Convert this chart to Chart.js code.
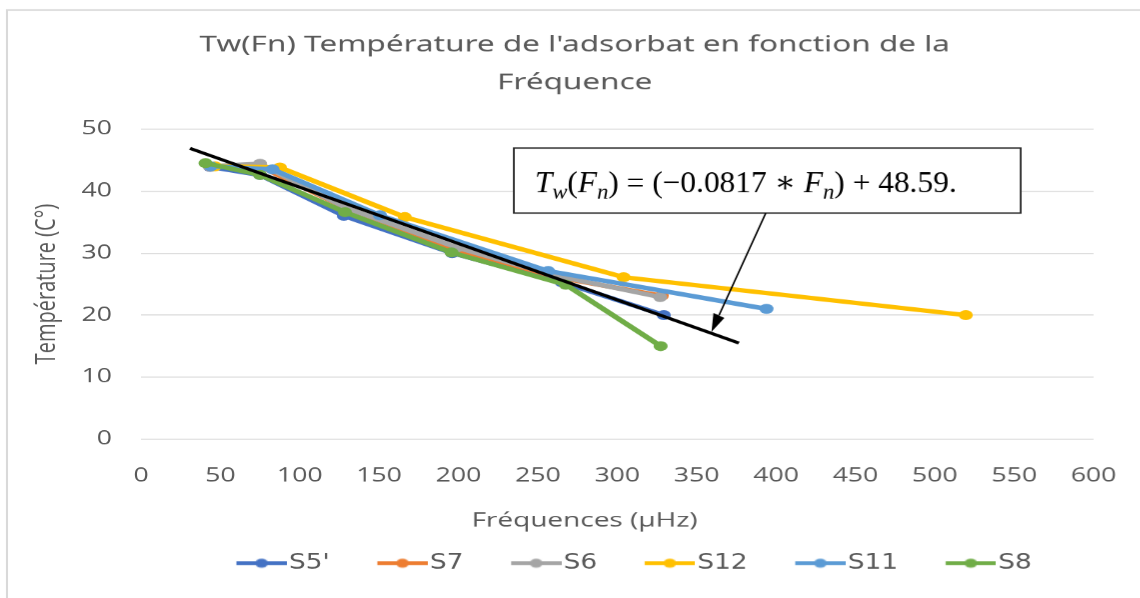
<!DOCTYPE html>
<html>
<head>
<meta charset="utf-8">
<script src="https://cdn.jsdelivr.net/npm/chart.js@4.4.0/dist/chart.umd.min.js"></script>
<style>
  html, body { margin: 0; padding: 0; background: #fff; overflow: hidden; }
  /* the reference picture is stretched sideways, so the chart is too */
  #wrap { position: absolute; left: 0; top: 0; width: 814.3px; height: 598px; transform: scaleX(1.4); transform-origin: 0 0; }
</style>
</head>
<body>
<div id="wrap"><canvas id="chart"></canvas></div>
<script>
const STRETCH = 1.4;

const seriesNames = ["S5'", "S7", "S6", "S12", "S11", "S8"];
const seriesColors = ["#4472C4", "#ED7D31", "#A5A5A5", "#FFC000", "#5B9BD5", "#70AD47"];

// frequencies (µHz) and temperatures (°C)
const s5Freq = [43.5, 75, 127.8, 196, 265, 329.3];
const s5Temp = [43.9, 42.6, 36.0, 30.0, 25.3, 20.0];
const s7Freq = [43.5, 75, 127, 197, 262, 328];
const s7Temp = [44.0, 44.0, 37.5, 30.7, 26.1, 23.1];
const s6Freq = [43.5, 75, 129, 199, 262, 327];
const s6Temp = [44.0, 44.4, 37.3, 30.9, 26.3, 22.9];
const s12Freq = [46.6, 87.5, 166.2, 304, 519.5];
const s12Temp = [44.0, 43.8, 35.8, 26.1, 20.0];
const s11Freq = [44, 82.9, 150.5, 256.5, 394];
const s11Temp = [44.0, 43.5, 36.1, 27.1, 21.0];
const s8Freq = [40.7, 75, 128.5, 195.6, 267.6, 327.3];
const s8Temp = [44.5, 42.6, 36.6, 30.1, 24.9, 15.0];

// hand drawn fit line
const trendFreq = [30.9, 376.6];
const trendTemp = [46.9, 15.5];

const xTicks = [0, 50, 100, 150, 200, 250, 300, 350, 400, 450, 500, 550, 600];
const yTicks = [0, 10, 20, 30, 40, 50];

const allFreq = [s5Freq, s7Freq, s6Freq, s12Freq, s11Freq, s8Freq];
const allTemp = [s5Temp, s7Temp, s6Temp, s12Temp, s11Temp, s8Temp];
// Excel draws the last series on top
const drawOrder = [6, 5, 4, 3, 2, 1];

const grey = "#595959";
const tickFont = { family: "'Open Sans', 'Noto Sans', sans-serif", size: 19 };
const axisTitleFont = { family: "'Open Sans', 'Noto Sans', sans-serif", size: 20 };

function toPoints(xs, ys) {
  return xs.map((x, i) => ({ x: x, y: ys[i] }));
}

function legendIcon(color) {
  let c = document.createElement("canvas");
  c.width = 69;
  c.height = 14;
  let g = c.getContext("2d");
  g.strokeStyle = color;
  g.lineWidth = 4;
  g.beginPath();
  g.moveTo(c.width - 36, 7);
  g.lineTo(c.width, 7);
  g.stroke();
  g.fillStyle = color;
  g.beginPath();
  g.arc(c.width - 18, 7, 4.5, 0, Math.PI * 2);
  g.fill();
  return c;
}
const icons = seriesColors.map(legendIcon);

let datasets = seriesNames.map((name, i) => ({
  label: name,
  data: toPoints(allFreq[i], allTemp[i]),
  showLine: true,
  borderColor: seriesColors[i],
  backgroundColor: seriesColors[i],
  borderWidth: 4.5,
  pointRadius: 5,
  pointBorderWidth: 0,
  pointBackgroundColor: seriesColors[i],
  tension: 0,
  order: drawOrder[i]
}));

datasets.push({
  label: "Tendance",
  data: toPoints(trendFreq, trendTemp),
  showLine: true,
  borderColor: "#000",
  borderWidth: 3,
  pointRadius: 0,
  order: 0
});

const overlay = {
  id: "overlay",
  beforeDraw(chart) {
    const { ctx, width, height } = chart;
    ctx.save();
    ctx.fillStyle = "#fff";
    ctx.fillRect(0, 0, width, height);
    ctx.strokeStyle = "#D9D9D9";
    ctx.lineWidth = 1.5;
    ctx.strokeRect(5, 10, width + 20, height + 20);
    ctx.restore();
  },
  afterDraw(chart) {
    const ctx = chart.ctx;
    ctx.save();

    // equation box
    const bx = 514 / STRETCH, by = 148, bw = (1021 - 514) / STRETCH, bh = 65;
    ctx.fillStyle = "#fff";
    ctx.fillRect(bx, by, bw, bh);
    ctx.strokeStyle = "#262626";
    ctx.lineWidth = 1.3;
    ctx.strokeRect(bx, by, bw, bh);

    const parts = [
      { t: "T", it: true }, { t: "w", it: true, sub: true },
      { t: "(" }, { t: "F", it: true }, { t: "n", it: true, sub: true },
      { t: ") = (\u22120.0817 \u2217 " }, { t: "F", it: true }, { t: "n", it: true, sub: true },
      { t: ") + 48.59." }
    ];
    const fam = "'Liberation Serif', 'DejaVu Serif', serif";
    const size = 30;
    const fontFor = p => (p.it ? "italic " : "") + (p.sub ? size * 0.72 : size) + "px " + fam;
    const total = parts.reduce((w, p) => { ctx.font = fontFor(p); return w + ctx.measureText(p.t).width; }, 0);
    const squeeze = ((957 - 535) / STRETCH) / total;
    const base = 192;
    ctx.translate(535 / STRETCH, 0);
    ctx.scale(squeeze, 1);
    ctx.fillStyle = "#000";
    ctx.textBaseline = "alphabetic";
    ctx.textAlign = "left";
    let x = 0;
    parts.forEach(p => {
      ctx.font = fontFor(p);
      ctx.fillText(p.t, x, p.sub ? base + size * 0.22 : base);
      x += ctx.measureText(p.t).width;
    });
    ctx.restore();

    // arrow, worked out in screen pixels then squeezed back
    ctx.save();
    const sx = 766, sy = 213, tx = 711.7, ty = 331.7;
    const len = Math.hypot(tx - sx, ty - sy);
    const ux = (tx - sx) / len, uy = (ty - sy) / len;
    const head = 18, half = 6;
    const cx = tx - ux * head, cy = ty - uy * head;
    ctx.strokeStyle = "#000";
    ctx.lineWidth = 1.2;
    ctx.beginPath();
    ctx.moveTo(sx / STRETCH, sy);
    ctx.lineTo(cx / STRETCH, cy);
    ctx.stroke();
    ctx.fillStyle = "#000";
    ctx.beginPath();
    ctx.moveTo(tx / STRETCH, ty);
    ctx.lineTo((cx - uy * half) / STRETCH, cy + ux * half);
    ctx.lineTo((cx + uy * half) / STRETCH, cy - ux * half);
    ctx.closePath();
    ctx.fill();
    ctx.restore();
  }
};

new Chart(document.getElementById("chart"), {
  type: "scatter",
  data: { datasets: datasets },
  plugins: [overlay],
  options: {
    responsive: true,
    maintainAspectRatio: false,
    animation: false,
    devicePixelRatio: STRETCH,
    layout: { padding: { left: 7, right: 0, top: 0, bottom: 14.5 } },
    plugins: {
      tooltip: { enabled: false },
      title: {
        display: true,
        text: ["Tw(Fn) Température de l'adsorbat en fonction de la", "Fréquence"],
        color: grey,
        font: { family: "'Noto Sans', sans-serif", size: 22.5, weight: "normal", lineHeight: "38px" },
        padding: { top: 26, bottom: 27 }
      },
      legend: {
        position: "bottom",
        fullSize: false,
        labels: {
          usePointStyle: true,
          pointStyleWidth: 51,
          padding: 10,
          color: grey,
          font: { family: "'Liberation Sans Narrow', 'DejaVu Sans Condensed', 'Noto Sans', sans-serif", size: 21 },
          filter: item => item.datasetIndex < seriesNames.length,
          sort: (a, b) => a.datasetIndex - b.datasetIndex,
          generateLabels: chart => Chart.defaults.plugins.legend.labels.generateLabels(chart).map(item => {
            if (item.datasetIndex < seriesNames.length) item.pointStyle = icons[item.datasetIndex];
            return item;
          })
        }
      }
    },
    scales: {
      x: {
        type: "linear",
        min: xTicks[0],
        max: xTicks[xTicks.length - 1],
        // the gap under the plot comes from tickLength, ticks.padding would also pad the sides
        ticks: { stepSize: xTicks[1] - xTicks[0], color: grey, font: tickFont, padding: 0 },
        grid: { display: false, drawTicks: true, tickLength: 25.6 },
        border: { display: false },
        title: {
          display: true,
          text: "Fréquences (µHz)\u00a0\u00a0\u00a0\u00a0\u00a0\u00a0\u00a0\u00a0\u00a0",
          color: grey, font: axisTitleFont, padding: { top: 0, bottom: 10 }
        },
        afterFit: s => { s.height = 103.5; }
      },
      y: {
        min: yTicks[0],
        max: yTicks[yTicks.length - 1],
        ticks: { stepSize: yTicks[1] - yTicks[0], color: grey, font: tickFont, padding: 20.7 },
        grid: { color: "#D9D9D9", lineWidth: 1, drawTicks: false },
        border: { display: false },
        title: { display: true, text: "Température (C°)", color: grey, font: axisTitleFont, padding: { top: 14.7, bottom: 0 } },
        afterFit: s => { s.width = 93.7; }
      },
      y2: {
        position: "right",
        ticks: { display: false },
        grid: { display: false, drawTicks: false },
        border: { display: false },
        afterFit: s => { s.width = 32.9; }
      }
    }
  }
});
</script>
</body>
</html>
